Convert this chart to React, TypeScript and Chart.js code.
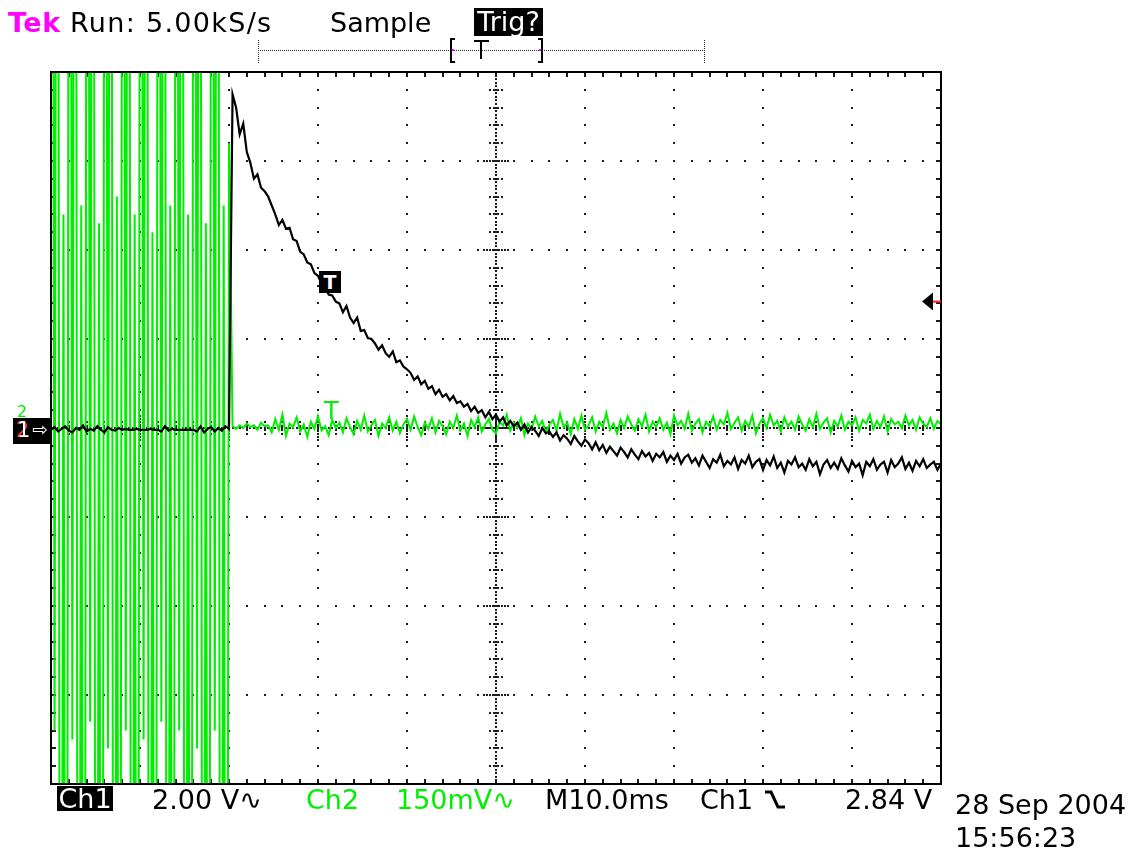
import React, { useEffect, useRef } from "react";
import { Chart, registerables } from "chart.js";

Chart.register(...registerables);

// ---- acquisition settings ----
const SAMPLE_PERIOD_MS = 0.4;
const BURST_SAMPLE_PERIOD_MS = 0.2;
const TIME_MIN_MS = 0;
const TIME_MAX_MS = 100;
const TIME_PER_DIV_MS = 10;
const DIV_MIN = -4;
const DIV_MAX = 4;
const CH1_VOLTS_PER_DIV = 2.0;
const TRIGGER_LEVEL_V = 2.84;

// ---- Ch1 (black), in screen divisions, one value per 0.4 ms ----
const ch1PreTrigger = [
  -0.02, 0.01, -0.04, -0.01, 0.02, -0.03, -0.05, 0.0, -0.02, 0.03,
  -0.04, -0.01, -0.03, 0.02, -0.02, -0.05, 0.01, -0.02, -0.03, 0.0,
  -0.02, -0.01, -0.02, -0.02, -0.01, -0.02, -0.02, -0.02, -0.01, -0.02,
  -0.02, -0.04, 0.02, -0.03, -0.01, -0.02, -0.02, -0.02, -0.02, -0.02,
  -0.02, -0.04, 0.02, -0.05, -0.01, 0.01, -0.04, 0.0, -0.03, 0.02,
  -0.01,
];
const ch1Decay = [
  3.75, 3.6, 3.3, 3.42, 3.1, 2.98, 2.8, 2.85, 2.7, 2.66,
  2.6, 2.5, 2.4, 2.28, 2.34, 2.24, 2.25, 2.12, 2.1, 1.98,
  1.95, 1.86, 1.84, 1.74, 1.71, 1.62, 1.58, 1.5, 1.49, 1.42,
  1.4, 1.3, 1.37, 1.24, 1.18, 1.24, 1.09, 1.1, 1.01, 1.0,
  0.95, 0.88, 0.93, 0.84, 0.8, 0.86, 0.74, 0.76, 0.69, 0.66,
  0.62, 0.54, 0.58, 0.49, 0.53, 0.44, 0.47, 0.38, 0.43, 0.35,
  0.38, 0.31, 0.36, 0.28, 0.3, 0.24, 0.27, 0.19, 0.24, 0.17,
  0.2, 0.12, 0.18, 0.1, 0.15, 0.07, 0.12, 0.03, 0.08, 0.02,
  0.06, -0.02, 0.04, -0.05, 0.01, -0.03, -0.09, 0.0, -0.06, -0.04,
  -0.1, -0.05, -0.14, -0.08, -0.12, -0.18, -0.09, -0.15, -0.2, -0.13,
  -0.17, -0.24, -0.16, -0.25, -0.19, -0.28, -0.21, -0.26, -0.31, -0.22,
  -0.27, -0.33, -0.24, -0.3, -0.35, -0.26, -0.32, -0.28, -0.37, -0.29,
  -0.33, -0.27, -0.38, -0.31, -0.36, -0.29, -0.4, -0.33, -0.3, -0.39,
  -0.34, -0.42, -0.31, -0.38, -0.45, -0.35, -0.39, -0.3, -0.43, -0.37,
  -0.41, -0.33, -0.46, -0.36, -0.4, -0.31, -0.44, -0.38, -0.35, -0.47,
  -0.36, -0.42, -0.32, -0.45, -0.39, -0.5, -0.37, -0.41, -0.33, -0.44,
  -0.4, -0.47, -0.35, -0.43, -0.38, -0.52, -0.41, -0.36, -0.45, -0.39,
  -0.46, -0.34, -0.42, -0.49, -0.37, -0.44, -0.4, -0.53, -0.38, -0.43,
  -0.35, -0.47, -0.41, -0.38, -0.5, -0.36, -0.44, -0.4, -0.33, -0.46,
  -0.39, -0.48, -0.37, -0.43, -0.35, -0.45, -0.41, -0.38, -0.47, -0.4,
];

// ---- Ch2 (green), in screen divisions ----
// burst: one value per 0.2 ms from 0 to 20.0 ms (clips beyond the screen)
const ch2Burst = [
  9, 9, -3.4, 9, 9, -9, -9, 2.4, -9, -9,
  9, 9, -3.5, 9, 9, -9, -9, 2.5, -9, -9,
  9, 9, -3.3, 9, 9, -9, -9, 2.3, -9, -9,
  9, 9, -3.6, 9, 9, -9, -9, 2.6, -9, -9,
  9, 9, -3.4, 9, 9, -9, -9, 2.4, -9, -9,
  9, 9, -3.5, 9, 9, -9, -9, 2.2, -9, -9,
  9, 9, -3.3, 9, 9, -9, -9, 2.5, -9, -9,
  9, 9, -3.4, 9, 9, -9, -9, 2.4, -9, -9,
  9, 9, -3.6, 9, 9, -9, -9, 2.3, -9, -9,
  9, 9, -3.4, 9, 9, -9, -9, 2.5, -9, -9,
  3.2,
];
// settled: one value per 0.4 ms from 20.4 to 100 ms
const ch2Settled = [
  0.02, -0.01, 0.03, 0.0, 0.05, 0.01, 0.03, -0.02, 0.06, 0.02,
  0.03, -0.05, 0.1, -0.02, 0.15, -0.09, 0.05, 0.01, 0.12, -0.04,
  0.04, -0.1, 0.07, -0.01, 0.13, -0.03, 0.02, -0.08, 0.09, 0.0,
  0.06, -0.05, 0.11, 0.01, -0.07, 0.08, -0.02, 0.14, -0.04, 0.03,
  0.09, -0.09, 0.05, 0.0, 0.12, -0.03, 0.07, -0.06, 0.04, 0.1,
  -0.02, 0.13, 0.01, -0.08, 0.06, -0.01, 0.11, -0.05, 0.08, 0.02,
  -0.07, 0.07, 0.0, 0.14, -0.03, 0.05, -0.09, 0.09, 0.01, 0.12,
  -0.04, 0.04, 0.1, -0.02, -0.06, 0.07, 0.03, 0.15, -0.03, 0.06,
  0.0, 0.11, -0.08, 0.05, -0.01, 0.13, 0.02, 0.08, -0.05, 0.04,
  0.09, -0.03, 0.16, 0.01, 0.06, -0.07, 0.1, -0.01, 0.14, -0.02,
  0.03, 0.12, -0.04, 0.07, 0.01, 0.17, -0.02, 0.05, -0.06, 0.09,
  0.0, 0.13, 0.04, -0.03, 0.1, 0.02, 0.15, -0.04, 0.07, 0.01,
  0.11, -0.02, 0.06, -0.07, 0.14, 0.03, 0.08, -0.01, 0.16, -0.03,
  0.05, 0.1, -0.05, 0.07, 0.02, 0.13, -0.02, 0.09, 0.04, 0.17,
  -0.01, 0.06, 0.12, -0.03, 0.08, 0.01, 0.14, -0.06, 0.05, 0.11,
  0.0, 0.15, 0.03, 0.08, -0.04, 0.12, 0.02, 0.07, -0.02, 0.13,
  0.04, -0.03, 0.1, 0.01, 0.16, -0.01, 0.06, 0.11, -0.05, 0.08,
  0.02, 0.14, -0.02, 0.07, 0.03, 0.12, -0.03, 0.09, 0.05, 0.15,
  -0.01, 0.08, 0.01, 0.13, -0.04, 0.1, 0.04, 0.07, 0.0, 0.14,
  0.03, 0.09, -0.02, 0.12, 0.05, 0.01, 0.11, -0.01, 0.08, 0.04,
];

const ch1Trace = [...ch1PreTrigger, ...ch1Decay];

const GREEN = "#00ee00";
const FONT = "'DejaVu Sans', Verdana, sans-serif";

const graticulePlugin = {
  id: "graticule",
  beforeDatasetsDraw(chart: any) {
    const { ctx, scales } = chart;
    const sx = scales.x;
    const sy = scales.y;
    const X = (t: number) => Math.round(sx.getPixelForValue(t));
    const Y = (d: number) => Math.round(sy.getPixelForValue(d));
    const xMinor = TIME_PER_DIV_MS / 5;
    const yMinor = 0.2;
    const xCenter = (TIME_MIN_MS + TIME_MAX_MS) / 2;
    const dot = (x: number, y: number) => ctx.fillRect(x - 1, y - 1, 2, 2);
    ctx.save();
    ctx.fillStyle = "#1c1c1c";
    for (let i = 1; i < 10; i++) {
      const t = TIME_MIN_MS + i * TIME_PER_DIV_MS;
      if (t === xCenter) continue;
      for (let m = 1; m < 40; m++) dot(X(t), Y(DIV_MIN + m * yMinor));
    }
    for (let d = DIV_MIN + 1; d < DIV_MAX; d++) {
      if (d === 0) continue;
      for (let m = 1; m < 50; m++) dot(X(TIME_MIN_MS + m * xMinor), Y(d));
    }
    const cx = X(xCenter);
    const cy = Y(0);
    for (let m = 0; m <= 200; m++) dot(cx, Y(DIV_MIN + m * (yMinor / 5)));
    for (let m = 1; m < 40; m++) {
      const y = Y(DIV_MIN + m * yMinor);
      ctx.fillRect(cx - 3, y - 1, 6, 2);
      dot(cx - 6, y);
      dot(cx + 6, y);
    }
    for (let d = DIV_MIN + 1; d < DIV_MAX; d++) {
      const y = Y(d);
      for (let k = -12; k <= 12; k += 3) dot(cx + k, y);
    }
    for (let m = 0; m <= 250; m++) dot(X(TIME_MIN_MS + m * (xMinor / 5)), cy);
    for (let m = 1; m < 50; m++) {
      const x = X(TIME_MIN_MS + m * xMinor);
      ctx.fillRect(x - 1, cy - 3, 2, 6);
      dot(x, cy - 6);
      dot(x, cy + 6);
    }
    for (let i = 1; i < 10; i++) {
      const x = X(TIME_MIN_MS + i * TIME_PER_DIV_MS);
      for (let k = -12; k <= 12; k += 3) dot(x, cy + k);
    }
    const a = chart.chartArea;
    for (let m = 1; m < 40; m++) {
      const y = Y(DIV_MIN + m * yMinor);
      ctx.fillRect(Math.round(a.left) + 1, y - 1, 4, 2);
      ctx.fillRect(Math.round(a.right) - 5, y - 1, 4, 2);
    }
    for (let m = 1; m < 50; m++) {
      const x = X(TIME_MIN_MS + m * xMinor);
      ctx.fillRect(x - 1, Math.round(a.top) + 1, 2, 4);
      ctx.fillRect(x - 1, Math.round(a.bottom) - 5, 2, 4);
    }
    ctx.restore();
  },
  afterDatasetsDraw(chart: any) {
    const { ctx, chartArea: a, scales } = chart;
    ctx.save();
    ctx.strokeStyle = "#000";
    ctx.lineWidth = 2;
    ctx.strokeRect(a.left, a.top, a.right - a.left, a.bottom - a.top);
    const ty = scales.y.getPixelForValue(TRIGGER_LEVEL_V / CH1_VOLTS_PER_DIV);
    ctx.fillStyle = "#000";
    ctx.beginPath();
    ctx.moveTo(a.right - 19, ty);
    ctx.lineTo(a.right - 8, ty - 9);
    ctx.lineTo(a.right - 8, ty + 9);
    ctx.closePath();
    ctx.fill();
    ctx.fillStyle = "#ff2020";
    ctx.fillRect(a.right - 8, ty - 1, 8, 2);
    // record bar above the graticule
    ctx.fillStyle = "#333";
    for (let x = 258; x <= 704; x += 2) ctx.fillRect(x, 50, 1, 1);
    for (let y = 40; y <= 62; y += 2) {
      ctx.fillRect(258, y, 1, 1);
      ctx.fillRect(704, y, 1, 1);
    }
    ctx.fillStyle = "#000";
    ctx.fillRect(450, 38, 2, 25);
    ctx.fillRect(450, 38, 5, 2);
    ctx.fillRect(450, 61, 5, 2);
    ctx.fillRect(541, 38, 2, 25);
    ctx.fillRect(538, 38, 5, 2);
    ctx.fillRect(538, 61, 5, 2);
    ctx.fillRect(474, 40, 15, 2);
    ctx.fillRect(480, 40, 2, 19);
    ctx.fillStyle = "#ff00ff";
    ctx.fillRect(452, 49, 2, 2);
    ctx.fillRect(539, 49, 2, 2);
    ctx.restore();
  },
};

const Txt = ({ x, y, color = "#000", size = 27, children, style = {} }: any) => (
  <span
    style={{
      position: "absolute",
      left: x,
      top: y,
      color,
      fontFamily: FONT,
      fontSize: size,
      lineHeight: `${size}px`,
      whiteSpace: "nowrap",
      ...style,
    }}
  >
    {children}
  </span>
);

export default function App() {
  const canvasRef = useRef<HTMLCanvasElement | null>(null);

  useEffect(() => {
    const canvas = canvasRef.current;
    if (!canvas) return;
    const ch1Points = ch1Trace.map((v, i) => ({ x: i * SAMPLE_PERIOD_MS, y: v }));
    const burstEnd = (ch2Burst.length - 1) * BURST_SAMPLE_PERIOD_MS;
    const ch2Points = [
      ...ch2Burst.map((v, j) => ({ x: j * BURST_SAMPLE_PERIOD_MS, y: v })),
      ...ch2Settled.map((v, k) => ({ x: burstEnd + (k + 1) * SAMPLE_PERIOD_MS, y: v })),
    ];
    const chart = new Chart(canvas, {
      type: "line",
      data: {
        datasets: [
          {
            label: "Ch1",
            data: ch1Points,
            borderColor: "#000",
            borderWidth: 2.2,
            pointRadius: 0,
            tension: 0,
            clip: 0,
          },
          {
            label: "Ch2",
            data: ch2Points,
            borderColor: GREEN,
            borderWidth: 2,
            pointRadius: 0,
            tension: 0,
            clip: 0,
          },
        ],
      },
      options: {
        animation: false,
        responsive: false,
        devicePixelRatio: 1,
        layout: { padding: { left: 51, top: 72, right: 198, bottom: 67 } },
        scales: {
          x: { type: "linear", min: TIME_MIN_MS, max: TIME_MAX_MS, display: false },
          y: { type: "linear", min: DIV_MIN, max: DIV_MAX, display: false },
        },
        plugins: { legend: { display: false }, tooltip: { enabled: false } },
        events: [],
      } as any,
      plugins: [graticulePlugin],
    });
    return () => chart.destroy();
  }, []);

  return (
    <div
      style={{
        position: "absolute",
        left: 0,
        top: 0,
        width: 1139,
        height: 851,
        background: "#fff",
        overflow: "hidden",
      }}
    >
      <canvas
        ref={canvasRef}
        width={1139}
        height={851}
        style={{ position: "absolute", left: 0, top: 0, width: 1139, height: 851 }}
      />
      {/* header */}
      <Txt x={8} y={9} color="#ff00ff" style={{ fontWeight: "bold", letterSpacing: 0.5 }}>Tek</Txt>
      <Txt x={70} y={9} style={{ letterSpacing: 1.3 }}>Run: 5.00kS/s</Txt>
      <Txt x={330} y={9}>Sample</Txt>
      <span
        style={{
          position: "absolute",
          left: 474,
          top: 8,
          width: 69,
          height: 28,
          background: "#000",
          color: "#fff",
          fontFamily: FONT,
          fontSize: 27,
          lineHeight: "28px",
          textAlign: "center",
          whiteSpace: "nowrap",
        }}
      >
        Trig?
      </span>
      {/* trigger point markers */}
      <span
        style={{
          position: "absolute",
          left: 319,
          top: 271,
          width: 22,
          height: 22,
          background: "#000",
          color: "#fff",
          fontFamily: FONT,
          fontWeight: "bold",
          fontSize: 19,
          lineHeight: "22px",
          textAlign: "center",
        }}
      >
        T
      </span>
      <Txt x={324} y={399} color={GREEN} size={24}>T</Txt>
      {/* ground markers */}
      <Txt x={17} y={404} color={GREEN} size={16}>2</Txt>
      <div
        style={{
          position: "absolute",
          left: 13,
          top: 418,
          width: 38,
          height: 26,
          background: "#000",
        }}
      >
        <Txt x={3} y={2} color="#ff3030" size={21}>2</Txt>
        <Txt x={4} y={2} color="#fff" size={21}>1</Txt>
        <Txt x={19} y={2} color="#fff" size={19}>⇨</Txt>
      </div>
      {/* footer */}
      <span
        style={{
          position: "absolute",
          left: 57,
          top: 786,
          width: 56,
          height: 25,
          background: "#000",
          color: "#fff",
          fontFamily: FONT,
          fontSize: 27,
          lineHeight: "25px",
          textAlign: "center",
          whiteSpace: "nowrap",
        }}
      >
        Ch1
      </span>
      <Txt x={152} y={786}>2.00 V∿</Txt>
      <Txt x={306} y={786} color={GREEN}>Ch2</Txt>
      <Txt x={396} y={786} color={GREEN}>150mV∿</Txt>
      <Txt x={545} y={786}>M10.0ms</Txt>
      <Txt x={700} y={786}>Ch1</Txt>
      <svg
        style={{ position: "absolute", left: 764, top: 789 }}
        width={22}
        height={22}
        viewBox="0 0 22 22"
      >
        <polyline points="1,3 7,3 14,18 21,18" fill="none" stroke="#000" strokeWidth={3} />
      </svg>
      <Txt x={845} y={786}>2.84 V</Txt>
      <Txt x={955} y={791}>28 Sep 2004</Txt>
      <Txt x={955} y={824}>15:56:23</Txt>
    </div>
  );
}
